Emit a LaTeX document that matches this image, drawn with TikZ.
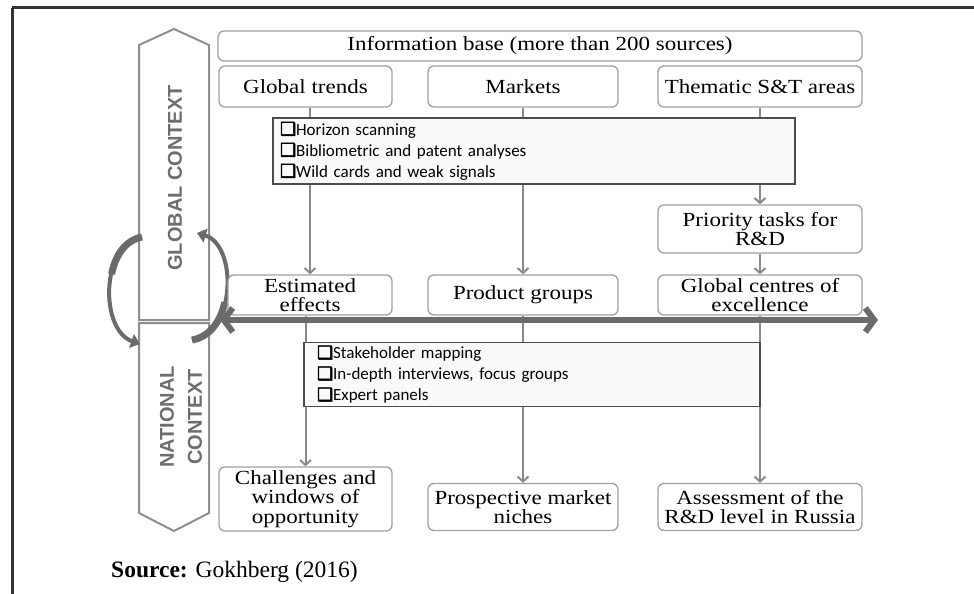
\documentclass[tikz,border=0pt]{standalone}
\usepackage{fontspec}
\setmainfont{Liberation Serif}[FakeStretch=1.15]
\newfontfamily\plainserif{Liberation Serif}
\newfontfamily\bulletfont{Carlito}
\newfontfamily\labelfont{Liberation Sans}
\newfontfamily\checkfont{DejaVu Sans}[FakeBold=3]
\usetikzlibrary{arrows.meta}
\definecolor{boxgray}{HTML}{A0A0A0}
\definecolor{linegray}{HTML}{8A8A8A}
\definecolor{darkarrow}{HTML}{6B6B6B}
\definecolor{labgray}{HTML}{6E6E6E}
\definecolor{framecol}{HTML}{333333}
\definecolor{ctxgray}{HTML}{8F8F8F}
\newcommand{\chk}{{\checkfont\fontsize{18}{18}\selectfont ❑}}
\tikzset{
  rbox/.style={draw=boxgray, line width=1.3pt, rounded corners=6pt, fill=white,
    align=center, inner sep=2pt, font=\fontsize{20}{19.5}\selectfont},
  bbox/.style={draw=black!70, line width=1.2pt, fill=black!2, align=left,
    font=\bulletfont\fontsize{17}{21}\selectfont},
  conn/.style={draw=linegray, line width=2pt, -{Straight Barb[length=5pt,width=11pt]}},
  bigarrow/.style={draw=darkarrow, line width=6pt,
    {Straight Barb[length=9pt,width=24pt]}-{Straight Barb[length=9pt,width=24pt]}},
  ctx/.style={draw=ctxgray, line width=2pt, fill=white},
  ctxlabel/.style={rotate=90, font=\labelfont\bfseries\fontsize{20}{28}\selectfont,
    text=labgray, align=center, inner sep=0pt},
  circarrow/.style={draw=darkarrow, line width=4pt, -{Triangle[length=9pt,width=14pt]}},
  circtail/.style={draw=darkarrow, line width=7pt}
}
\begin{document}
\begin{tikzpicture}[x=1pt,y=-1pt]
\useasboundingbox (0,0) rectangle (974,594);
\fill[white] (0,0) rectangle (974,594);
% frame
\draw[framecol, line width=3pt] (12,8) -- (974,8);
\draw[framecol, line width=3pt] (12,8) -- (12,594);

% context arrows
\draw[ctx] (139,320) -- (139,45) -- (174,29) -- (209,45) -- (209,320) -- cycle;
\draw[ctx] (139,323) -- (209,323) -- (209,513) -- (174,531) -- (139,513) -- cycle;
\node[ctxlabel] (glab) at (175,178) {GLOBAL CONTEXT};
\node[ctxlabel] (nlab) at (181,417) {NATIONAL\\CONTEXT};

% circular arrows (thick tail + tapered body)
\draw[circarrow] (142,237) .. controls (100,245) and (100,330) .. (140,344);
\draw[circtail] (142,237) .. controls (125.2,240.2) and (115.12,255.72) .. (111.63,274.09);
\draw[circarrow] (192,340) .. controls (237,332) and (237,245) .. (197,233);
\draw[circtail] (192,340) .. controls (210,336.8) and (220.8,320.96) .. (224.72,302.34);

% boxes
\node[rbox, minimum width=644pt, minimum height=30pt] (info) at (540,46) {Information base (more than 200 sources)};
\node[rbox, minimum width=173pt, minimum height=41pt] (gt) at (305.5,86.5) {Global trends};
\node[rbox, minimum width=190pt, minimum height=41pt] (mk) at (523,86.5) {Markets};
\node[rbox, minimum width=204pt, minimum height=41pt] (th) at (760,86.5) {Thematic S\&T areas};
\node[rbox, minimum width=204pt, minimum height=48pt] (pr) at (760,229) {Priority tasks for\\R\&D};
\node[rbox, minimum width=164pt, minimum height=40pt] (ee) at (310,295) {Estimated\\effects};
\node[rbox, minimum width=190pt, minimum height=40pt] (pg) at (523,295) {Product groups};
\node[rbox, minimum width=204pt, minimum height=40pt] (gc) at (760,295) {Global centres of\\excellence};
\node[rbox, minimum width=173pt, minimum height=64pt] (ch) at (305.5,499) {Challenges and\\windows of\\opportunity};
\node[rbox, minimum width=190pt, minimum height=47pt] (ps) at (523,507) {Prospective market\\niches};
\node[rbox, minimum width=204pt, minimum height=47pt] (as) at (760,507) {Assessment of the\\R\&D level in Russia};

% connectors (drawn before the bullet boxes, which cover them)
\draw[conn] (ee.north |- gt.south) -- (ee.north);
\draw[conn] (mk.south) -- (pg.north);
\draw[conn] (th.south) -- (pr.north);
\draw[conn] (pr.south) -- (gc.north);
\draw[conn] (ch.north |- ee.south) -- (ch.north);
\draw[conn] (pg.south) -- (ps.north);
\draw[conn] (gc.south) -- (as.north);

% bullet boxes
\node[bbox, text width=508pt, inner xsep=7pt, minimum height=66pt] (hz) at (534,151)
  {\chk Horizon scanning\\\chk Bibliometric and patent analyses\\\chk Wild cards and weak signals};
\node[bbox, text width=430pt, inner xsep=13pt, minimum height=63pt] (sh) at (532,374.5)
  {\chk Stakeholder mapping\\\chk In-depth interviews, focus groups\\\chk Expert panels};

% big double arrow
\coordinate (hl) at (220,320);
\coordinate (hr) at (878,320);
\draw[bigarrow] (hl) -- (hr);

% source
\node[anchor=base west, inner sep=0pt, font=\plainserif\fontsize{23.5}{26}\selectfont] (src) at (111,577)
  {\textbf{Source:} Gokhberg (2016)};
\end{tikzpicture}
\end{document}
